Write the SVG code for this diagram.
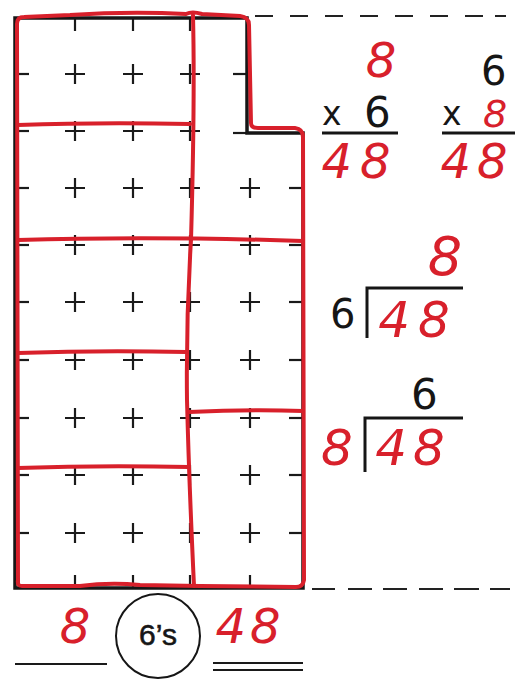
<svg xmlns="http://www.w3.org/2000/svg" xmlns:xlink="http://www.w3.org/1999/xlink" width="528" height="679" viewBox="0 0 528 679">
<style>
.blk{fill:none;stroke:#161616;stroke-width:3.5;stroke-linejoin:miter}
.red{fill:none;stroke:#d8202b;stroke-width:4;stroke-linecap:round;stroke-linejoin:round}
.mk{fill:none;stroke:#1a1a1a;stroke-width:2.2}
.dash{fill:none;stroke:#222;stroke-width:2}
.rule{fill:none;stroke:#161616;stroke-width:3}
.bt{font-family:"DejaVu Sans","Liberation Sans",sans-serif;fill:#161616}
.rt{font-family:"DejaVu Sans","Liberation Sans",sans-serif;font-style:italic;fill:#d8202b}
</style>
<defs>
<path id="p" d="M-10,0H10M0,-10V10" class="mk"/>
<path id="tr" d="M0,0H14" class="mk"/>
<path id="tl" d="M0,0H-14" class="mk"/>
<path id="td" d="M0,0V13" class="mk"/>
<path id="tu" d="M0,0V-13" class="mk"/>
</defs>
<rect width="528" height="679" fill="#fff"/>
<g id="dashes">
<path class="dash" d="M255,16H273M290,16H308M325,16H343M360,16H378M395,16H413M430,16H448M465,16H483M495,16H506"/>
<path class="dash" d="M312,589H335M348,589H372M383,589H407M419,589H443M454,589H479M490,589H510"/>
</g>
<g id="grid-marks">
<use href="#p" x="75" y="74"/><use href="#p" x="133" y="74"/><use href="#p" x="190" y="74"/>
<use href="#p" x="75" y="131"/><use href="#p" x="133" y="131"/><use href="#p" x="190" y="131"/>
<use href="#p" x="75" y="188"/><use href="#p" x="133" y="188"/><use href="#p" x="190" y="188"/><use href="#p" x="250" y="188"/>
<use href="#p" x="75" y="245"/><use href="#p" x="133" y="245"/><use href="#p" x="190" y="245"/><use href="#p" x="250" y="245"/>
<use href="#p" x="75" y="302"/><use href="#p" x="133" y="302"/><use href="#p" x="190" y="302"/><use href="#p" x="250" y="302"/>
<use href="#p" x="75" y="360"/><use href="#p" x="133" y="360"/><use href="#p" x="190" y="360"/><use href="#p" x="250" y="360"/>
<use href="#p" x="75" y="418"/><use href="#p" x="133" y="418"/><use href="#p" x="190" y="418"/><use href="#p" x="250" y="418"/>
<use href="#p" x="75" y="475"/><use href="#p" x="133" y="475"/><use href="#p" x="190" y="475"/><use href="#p" x="250" y="475"/>
<use href="#p" x="75" y="533"/><use href="#p" x="133" y="533"/><use href="#p" x="190" y="533"/><use href="#p" x="250" y="533"/>
<use href="#tr" x="15" y="74"/><use href="#tr" x="15" y="131"/><use href="#tr" x="15" y="188"/><use href="#tr" x="15" y="245"/><use href="#tr" x="15" y="302"/><use href="#tr" x="15" y="360"/><use href="#tr" x="15" y="418"/><use href="#tr" x="15" y="475"/><use href="#tr" x="15" y="533"/>
<use href="#tl" x="247" y="74"/><use href="#tl" x="247" y="133"/>
<use href="#tl" x="303" y="188"/><use href="#tl" x="303" y="245"/><use href="#tl" x="303" y="302"/><use href="#tl" x="303" y="360"/><use href="#tl" x="303" y="418"/><use href="#tl" x="303" y="475"/><use href="#tl" x="303" y="533"/>
<use href="#td" x="75" y="18"/><use href="#td" x="133" y="18"/><use href="#td" x="190" y="18"/>
<use href="#tu" x="75" y="588"/><use href="#tu" x="133" y="588"/><use href="#tu" x="190" y="588"/><use href="#tu" x="250" y="588"/>
</g>
<g id="outline">
<path class="blk" d="M15,18H247V133H303V588H15Z"/>
</g>
<g id="groups">
<path class="red" d="M18,584 L17,24 Q17,17 24,17 L70,15 Q130,11 186,14 Q192,11 202,14 L240,16 Q249,17 249,25 L251,123 Q251,128 258,128 L295,128 Q303,129 303,137 L304,580 Q303,587 296,587 L200,586 L140,585 Q110,582 80,586 L22,586 Q17,586 18,580"/>
<path class="red" d="M193,15 Q195,100 191,240 Q186,320 187,400 Q189,480 194,586"/>
<path class="red" d="M18,125 Q100,122 190,124"/>
<path class="red" d="M18,240 Q150,236 303,241"/>
<path class="red" d="M18,353 Q100,350 186,352"/>
<path class="red" d="M18,468 Q100,465 189,467"/>
<path class="red" d="M189,412 Q250,409 303,411"/>
</g>
<g id="bottom-labels">
<text class="rt" x="75" y="643" font-size="48" text-anchor="middle">8</text>
<path class="mk" d="M15,664H107" stroke-width="2.5"/>
<circle cx="158" cy="636" r="42" fill="none" stroke="#161616" stroke-width="2"/>
<text x="158" y="645" font-size="30" text-anchor="middle" font-family="'Liberation Sans',Arial,sans-serif" fill="#161616" stroke="#161616" stroke-width="0.6">6’s</text>
<text class="rt" x="250" y="643" font-size="48" text-anchor="middle" letter-spacing="4">48</text>
<path class="mk" d="M213,663H303M213,670H303" stroke-width="2.5"/>
</g>
<g id="mult-1">
<text class="rt" x="381" y="77" font-size="48" text-anchor="middle">8</text>
<text class="bt" x="322" y="125" font-size="33">x</text>
<text class="bt" x="364" y="127" font-size="42">6</text>
<path class="rule" d="M322,133H398"/>
<text class="rt" x="360" y="178" font-size="48" text-anchor="middle" letter-spacing="8">48</text>
</g>
<g id="mult-2">
<text class="bt" x="481" y="85" font-size="40">6</text>
<text class="bt" x="442" y="125" font-size="33">x</text>
<text class="rt" x="495" y="127" font-size="38" text-anchor="middle">8</text>
<path class="rule" d="M442,133H515"/>
<text class="rt" x="477" y="178" font-size="48" text-anchor="middle" letter-spacing="6">48</text>
</g>
<g id="div-1">
<text class="rt" x="445" y="275" font-size="54" text-anchor="middle">8</text>
<text class="bt" x="330" y="328" font-size="40">6</text>
<path class="rule" d="M367,338V288H463"/>
<text class="rt" x="418" y="337" font-size="50" text-anchor="middle" letter-spacing="8">48</text>
</g>
<g id="div-2">
<text class="bt" x="411" y="409" font-size="42">6</text>
<path class="rule" d="M365,472V418H463"/>
<text class="rt" x="337" y="465" font-size="50" text-anchor="middle">8</text>
<text class="rt" x="413" y="465" font-size="50" text-anchor="middle" letter-spacing="6">48</text>
</g>
</svg>
